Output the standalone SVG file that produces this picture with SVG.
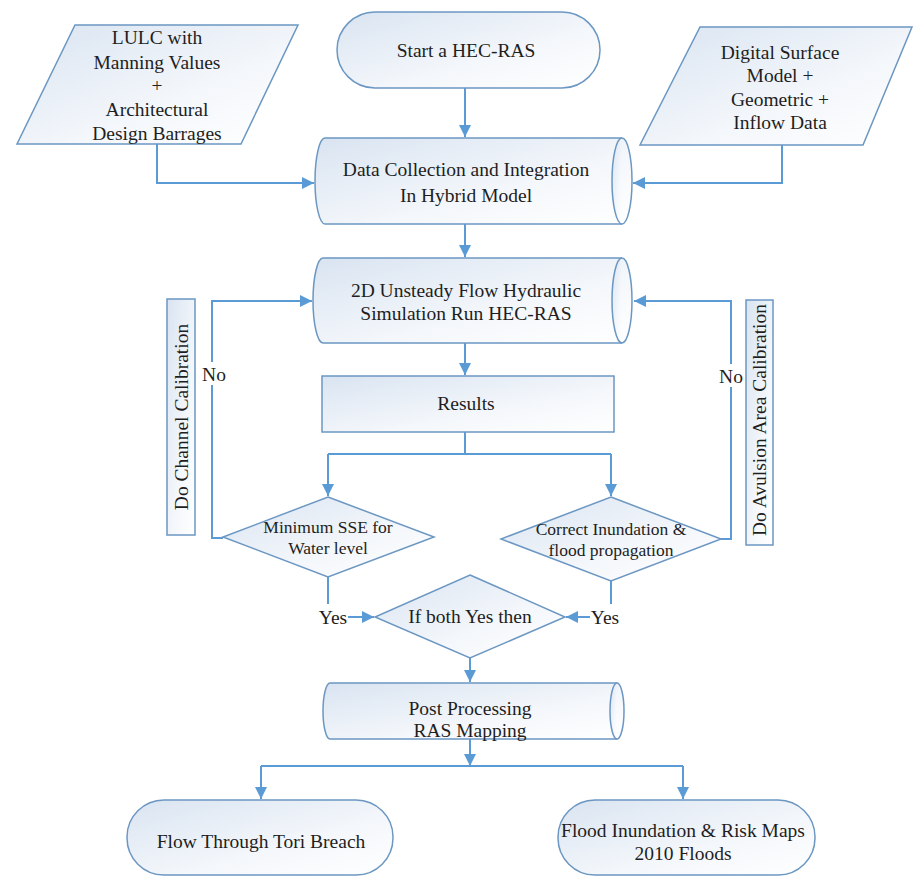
<svg xmlns="http://www.w3.org/2000/svg" width="914" height="877" viewBox="0 0 914 877" font-family="'Liberation Serif', 'Times New Roman', Times, 'DejaVu Serif', serif">
<defs>
<linearGradient id="g" x1="0" y1="0" x2="1" y2="1">
<stop offset="0" stop-color="#d9e4f1"/>
<stop offset="0.6" stop-color="#f4f7fb"/>
<stop offset="1" stop-color="#ffffff"/>
</linearGradient>
<marker id="ah" markerUnits="userSpaceOnUse" markerWidth="12" markerHeight="12" refX="12" refY="6" orient="auto">
<path d="M0,0 L12,6 L0,12 Z" fill="#5b9bd5"/>
</marker>
<style>
.s{fill:url(#g);stroke:#6b97c2;stroke-width:1.5}
.c{fill:none;stroke:#5b9bd5;stroke-width:2}
.a{marker-end:url(#ah)}
text{font-family:'Liberation Serif','Times New Roman',Times,'DejaVu Serif',serif;font-size:19.5px;fill:#1e1e1e;text-anchor:middle}
.sm{font-size:17.5px}
</style>
</defs>
<rect width="914" height="877" fill="#ffffff"/>

<g id="connectors">
<path class="c a" d="M465,88 V137"/>
<path class="c a" d="M157,144 V183 H314"/>
<path class="c a" d="M782,145 V183 H633"/>
<path class="c a" d="M465,224 V257"/>
<path class="c a" d="M465,343 V375"/>
<path class="c" d="M465,432 V454 M328,454 H611"/>
<path class="c a" d="M328,454 V496"/>
<path class="c a" d="M611,454 V496"/>
<path class="c" d="M223,538 H212 V385"/>
<path class="c a" d="M212,362 V301 H312"/>
<path class="c" d="M721,539 H731 V387"/>
<path class="c a" d="M731,364 V301 H634"/>
<path class="c" d="M328,577 V604"/>
<path class="c a" d="M348,617 H374"/>
<path class="c" d="M611,581 V604"/>
<path class="c a" d="M590,617 H566"/>
<path class="c a" d="M470,658 V682"/>
<path class="c a" d="M470,739 V766"/>
<path class="c" d="M261,766 H683"/>
<path class="c a" d="M261,766 V799"/>
<path class="c a" d="M683,766 V799"/>
<text x="214" y="381">No</text>
<text x="731" y="383">No</text>
<text x="333" y="624">Yes</text>
<text x="605" y="624">Yes</text>
</g>

<g id="lulc">
<path class="s" d="M75,25 H298 L241,144 H17 Z"/>
<text x="157" y="44">LULC with</text>
<text x="157" y="69">Manning Values</text>
<text x="157" y="92">+</text>
<text x="157" y="116">Architectural</text>
<text x="157" y="140">Design Barrages</text>
</g>

<g id="start">
<rect class="s" x="337" y="12" width="263" height="76" rx="38" ry="38"/>
<text x="466" y="57">Start a HEC-RAS</text>
</g>

<g id="dsm">
<path class="s" d="M700,27 H912 L863,145 H640 Z"/>
<text x="780" y="59">Digital Surface</text>
<text x="780" y="82">Model +</text>
<text x="780" y="106">Geometric +</text>
<text x="780" y="129">Inflow Data</text>
</g>

<g id="data">
<path class="s" d="M325,138 H622 A10,43 0 0 1 622,224 H325 A10,43 0 0 1 325,138 Z"/>
<path class="s" d="M622,138 A10,43 0 0 0 622,224" fill="none"/>
<text x="466" y="176">Data Collection and Integration</text>
<text x="466" y="202">In Hybrid Model</text>
</g>

<g id="sim">
<path class="s" d="M323,258 H622 A10,42.5 0 0 1 622,343 H323 A10,42.5 0 0 1 323,258 Z"/>
<path class="s" d="M622,258 A10,42.5 0 0 0 622,343" fill="none"/>
<text x="466" y="297">2D Unsteady Flow Hydraulic</text>
<text x="466" y="320">Simulation Run HEC-RAS</text>
</g>

<g id="results">
<rect class="s" x="322" y="376" width="292" height="56"/>
<text x="466" y="410">Results</text>
</g>

<g id="chancal">
<rect class="s" x="167" y="299" width="28" height="236"/>
<text transform="translate(188,417) rotate(-90)">Do Channel Calibration</text>
</g>

<g id="avucal">
<rect class="s" x="746" y="300" width="27" height="245"/>
<text transform="translate(766,420) rotate(-90)">Do Avulsion Area Calibration</text>
</g>

<g id="sse">
<path class="s" d="M328,497 L434,537 L328,577 L223,537 Z"/>
<text class="sm" x="328" y="533">Minimum SSE for</text>
<text class="sm" x="328" y="554">Water level</text>
</g>

<g id="inund">
<path class="s" d="M611,497 L721,539 L611,581 L501,539 Z"/>
<text class="sm" x="611" y="535">Correct Inundation &amp;</text>
<text class="sm" x="611" y="556">flood propagation</text>
</g>

<g id="both">
<path class="s" d="M470,575 L565,617 L470,658 L375,617 Z"/>
<text x="470" y="623">If both Yes then</text>
</g>

<g id="post">
<path class="s" d="M330,683 H617 A7,28 0 0 1 617,739 H330 A7,28 0 0 1 330,683 Z"/>
<path class="s" d="M617,683 A7,28 0 0 0 617,739" fill="none"/>
<text x="470" y="715">Post Processing</text>
<text x="470" y="737">RAS Mapping</text>
</g>

<g id="tori">
<rect class="s" x="127" y="800" width="266" height="75" rx="37" ry="37"/>
<text x="261" y="848">Flow Through Tori Breach</text>
</g>

<g id="maps">
<rect class="s" x="558" y="800" width="257" height="75" rx="37" ry="37"/>
<text x="683" y="837">Flood Inundation &amp; Risk Maps</text>
<text x="683" y="860">2010 Floods</text>
</g>
</svg>
